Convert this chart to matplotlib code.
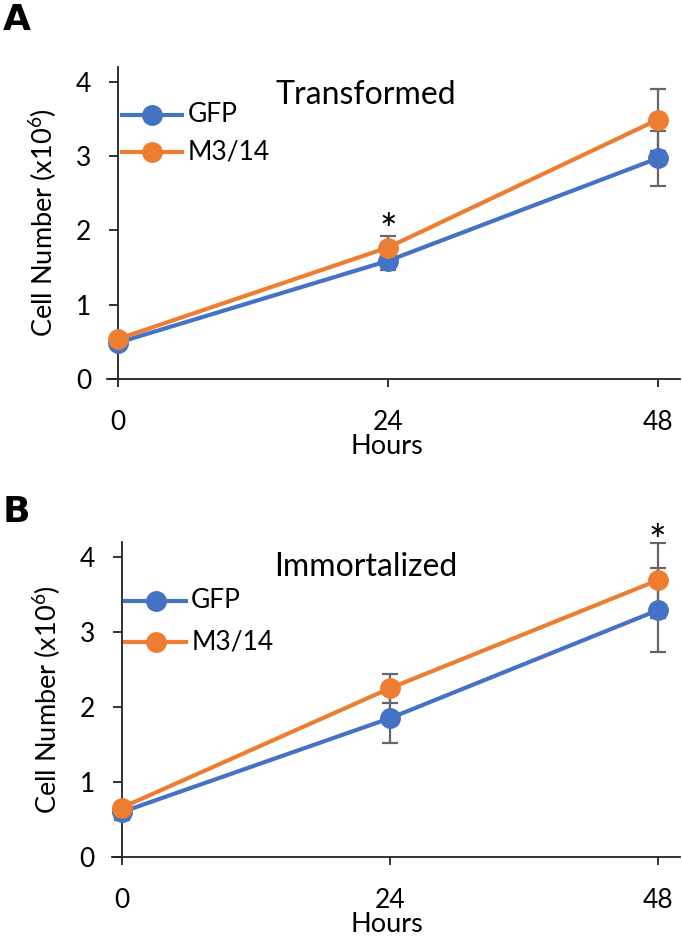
import matplotlib
matplotlib.use("Agg")
import matplotlib.pyplot as plt
import numpy as np

plt.rcParams['font.family'] = ['Lato', 'DejaVu Sans']
plt.rcParams['mathtext.fontset'] = 'custom'
plt.rcParams['mathtext.rm'] = 'Lato'
plt.rcParams['mathtext.default'] = 'regular'

hours = [0, 24, 48]
series_names = ["GFP", "M3/14"]
colors = ["#4472C4", "#ED7D31"]

# Panel A: Transformed
a_gfp = [0.49, 1.59, 2.97]
a_gfp_err = [0.03, 0.12, 0.37]
a_m314 = [0.54, 1.77, 3.49]
a_m314_err = [0.03, 0.16, 0.42]

# Panel B: Immortalized
b_gfp = [0.60, 1.85, 3.29]
b_gfp_err = [0.10, 0.33, 0.56]
b_m314 = [0.66, 2.25, 3.69]
b_m314_err = [0.05, 0.19, 0.50]

fig = plt.figure(figsize=(6.82, 9.39), dpi=100)
W, H = 682, 939


def make_axes(left_px, right_px, top_px, bottom_px):
    return fig.add_axes([left_px / W, 1 - bottom_px / H,
                         (right_px - left_px) / W, (bottom_px - top_px) / H])


panels = [
    dict(ax=make_axes(107, 680, 67, 379), xlim=(-1.0, 50.0), title="Transformed",
         gfp=a_gfp, gfp_err=a_gfp_err, m=a_m314, m_err=a_m314_err,
         star=(24, 1.98), letter="A", letter_y=20, title_xy=(22, 3.82),
         leg_y=(3.56, 3.06), hours_base=454),
    dict(ax=make_axes(112, 680, 542, 857), xlim=(-0.9, 50.0), title="Immortalized",
         gfp=b_gfp, gfp_err=b_gfp_err, m=b_m314, m_err=b_m314_err,
         star=(48, 4.19), letter="B", letter_y=512, title_xy=(21.8, 3.87),
         leg_y=(3.42, 2.87), hours_base=932),
]

for p in panels:
    ax = p["ax"]
    ax.set_xlim(*p["xlim"])
    ax.set_ylim(0, 4.2)
    for s in ["top", "right"]:
        ax.spines[s].set_visible(False)
    ax.spines["left"].set_position(("data", 0))
    for s in ["left", "bottom"]:
        ax.spines[s].set_linewidth(1.3)
        ax.spines[s].set_color("#222222")
    ax.set_xticks(hours)
    ax.set_xticklabels([str(h) for h in hours])
    ax.set_yticks([0, 1, 2, 3, 4])
    ax.tick_params(axis="x", direction="out", length=6, width=1.3, pad=16,
                   labelsize=19, color="#222222")
    ax.tick_params(axis="y", direction="out", length=6.5, width=1.3, pad=13,
                   labelsize=19, color="#222222")
    ax.set_ylabel("Cell Number (x10$^{6}$)", fontsize=19.5, labelpad=12)
    # x-axis title placed at its baseline
    fig.text(387 / W, 1 - p["hours_base"] / H, "Hours", fontsize=19.5,
             ha="center", va="baseline")

    # error bars
    ax.errorbar(hours, p["m"], yerr=p["m_err"], fmt="none", ecolor="#666666",
                elinewidth=1.6, capsize=6, capthick=1.6, zorder=2)
    ax.errorbar(hours, p["gfp"], yerr=p["gfp_err"], fmt="none", ecolor="#666666",
                elinewidth=1.6, capsize=6, capthick=1.6, zorder=2)
    ax.plot(hours, p["gfp"], color=colors[0], lw=3, marker="o", ms=14, zorder=3,
            clip_on=False)
    ax.plot(hours, p["m"], color=colors[1], lw=3, marker="o", ms=14, zorder=4,
            clip_on=False)

    # legend drawn in data coords
    for name, col, ly in zip(series_names, colors, p["leg_y"]):
        ax.plot([0.3, 5.7], [ly, ly], color=col, lw=3, zorder=5, clip_on=False)
        ax.plot([3.0], [ly], color=col, marker="o", ms=14, zorder=5, clip_on=False)
        ax.text(6.2, ly, name, fontsize=19, va="center", ha="left")

    ax.text(p["title_xy"][0], p["title_xy"][1], p["title"], fontsize=23,
            ha="center", va="center")
    ax.text(p["star"][0], p["star"][1], "*", fontsize=30, ha="center", va="center")
    fig.text(3 / W, 1 - p["letter_y"] / H, p["letter"], fontsize=26,
             fontweight="bold", family="DejaVu Sans", ha="left", va="center")

fig.savefig("out.png", dpi=100)
